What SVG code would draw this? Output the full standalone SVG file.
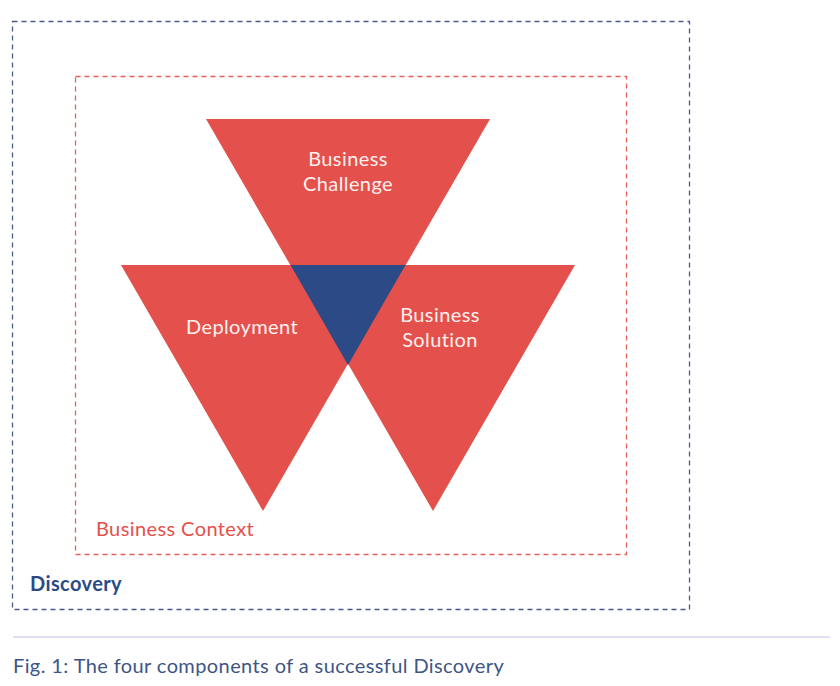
<svg xmlns="http://www.w3.org/2000/svg" width="840" height="686" viewBox="0 0 840 686">
<style>
.tri{fill:#e4504b}
.core{fill:#2b4a86}
text{font-family:Lato,"Open Sans",sans-serif;font-size:20px;letter-spacing:0.4px}
.lbl{fill:#fdf0ef;text-anchor:middle}
.box{fill:none;stroke-width:1.3;stroke-dasharray:5 4}
</style>
<rect width="840" height="686" fill="#ffffff"/>
<g id="discovery">
<rect class="box" x="12.5" y="21.5" width="677" height="588" stroke="#4a5a8c"/>
<text x="30" y="591" font-weight="bold" fill="#2b4a86">Discovery</text>
</g>
<g id="business-context">
<rect class="box" x="75.5" y="76.5" width="551" height="478" stroke="#e4605a"/>
<text x="96" y="536" fill="#e4504b">Business Context</text>
</g>
<g id="business-challenge">
<polygon class="tri" points="206,119 490,119 348,365"/>
<text class="lbl" x="348" y="166">Business</text>
<text class="lbl" x="348" y="191">Challenge</text>
</g>
<g id="deployment">
<polygon class="tri" points="121,265 405,265 263,511"/>
<text class="lbl" x="242" y="334">Deployment</text>
</g>
<g id="business-solution">
<polygon class="tri" points="291,265 575,265 433,511"/>
<text class="lbl" x="440" y="322">Business</text>
<text class="lbl" x="440" y="347">Solution</text>
</g>
<g id="discovery-core">
<polygon class="core" points="290.5,265 405.5,265 348,365"/>
</g>
<g id="connectors"></g>
<line x1="13" y1="637" x2="830" y2="637" stroke="#d6d6ec" stroke-width="1.5"/>
<text x="13" y="673" fill="#3d5585">Fig. 1: The four components of a successful Discovery</text>
</svg>
